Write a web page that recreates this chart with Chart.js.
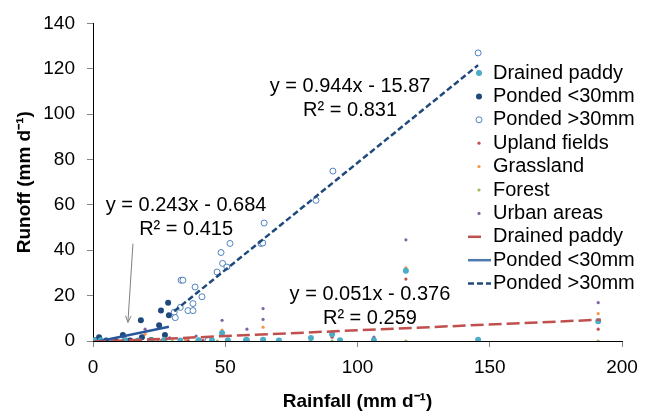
<!DOCTYPE html>
<html>
<head>
<meta charset="utf-8">
<script src="https://cdn.jsdelivr.net/npm/chart.js@4.4.1/dist/chart.umd.min.js"></script>
<style>
  body { margin: 0; background: #fff; }
</style>
</head>
<body>
<canvas id="js--chart" width="653" height="417"></canvas>
<script>
// rainfall (x) and runoff (y) per land use, mm/d
const drainedX = [0.5, 3, 7, 12, 17, 22, 27, 33, 40, 45, 48.8, 51, 58, 64.3, 70.3, 82.4, 90.4, 93.4, 106.2, 118.3, 145.6, 191];
const drainedY = [0.2, 0.3, 0.1, 0.4, 0.2, 0.3, 0.5, 0.2, 0.3, 0.2, 3.5, 0.3, 0.4, 0.6, 0.2, 1.3, 3.0, 0.3, 0.3, 31, 0.6, 8.7];

const pondedLowX = [0, 0.5, 2.3, 5, 8, 11.3, 14, 18.1, 18.5, 22, 25, 25.7, 27.2, 28.4, 28.7];
const pondedLowY = [0, 0.3, 1.7, 0.2, 0.3, 2.6, 0.2, 9.1, 1.7, 0.4, 6.9, 13.4, 2.6, 16.9, 11.3];

const pondedHighX = [30.7, 31.1, 33, 33.3, 34, 35.9, 37.8, 37.8, 38.6, 41.2, 43.5, 46.9, 48.4, 49, 50.6, 51.8, 58, 63.5, 64.2, 64.7, 84.3, 90.7, 145.6];
const pondedHighY = [12.7, 10.3, 14.8, 26.8, 26.8, 13.4, 13.4, 16.5, 23.8, 19.5, 0.2, 30.4, 39, 34.2, 32.6, 43, 0.3, 43, 43.2, 52, 62, 74.9, 127];

const uplandX = [1, 4, 9, 15, 21, 26, 36, 41.6, 48.8, 64.3, 90.4, 118.3, 191];
const uplandY = [0.3, 0.2, 0.5, 0.3, 0.6, 0.4, 0.2, 0.3, 2.4, 0.8, 1.7, 27.3, 5.2];

const grassX = [2, 6, 13, 19.7, 24, 35, 43.5, 48.8, 64.3, 82.4, 90.4, 118.3, 191];
const grassY = [0.3, 0.4, 0.2, 3.0, 0.5, 0.3, 0.2, 4.8, 6.1, 1.8, 2.2, 32.3, 12.1];

const forestX = [1.5, 7, 16, 23, 30, 39, 47, 51, 64.3, 70.3, 82.4, 90.4, 93.4, 118.3, 145.6, 191];
const forestY = [0, 0.1, 0, 0.1, 0, 0, 0, 0, 0, 0, 0, 0, 0, 0, 0, 0];

const urbanX = [0.8, 3.5, 9, 12.5, 19.7, 24.5, 29, 35, 39, 43.5, 48.8, 58.2, 64.3, 64.3, 90.4, 106.2, 118.3, 145.6, 191];
const urbanY = [0.4, 0.2, 0.6, 1.0, 5.2, 0.5, 1.4, 0.3, 2.2, 0.3, 9.1, 5.2, 14.3, 9.5, 3.9, 1.7, 44.6, 0.9, 16.9];

// trend line end points
const drainedTrendX = [0, 192];
const drainedTrendY = [-0.38, 9.4];
const pondedLowTrendX = [0.5, 28.7];
const pondedLowTrendY = [-0.56, 6.29];
const pondedHighTrendX = [30.7, 145.6];
const pondedHighTrendY = [13.1, 121.6];

const xTicks = [0, 50, 100, 150, 200];
const yTicks = [0, 20, 40, 60, 80, 100, 120, 140];

const equations = [
  ["y = 0.944x - 15.87", "R² = 0.831"],
  ["y = 0.243x - 0.684", "R² = 0.415"],
  ["y = 0.051x - 0.376", "R² = 0.259"],
];

function pts(xs, ys) {
  return xs.map((x, i) => ({ x: x, y: ys[i] }));
}

const FONT = "'Liberation Sans', Arial, sans-serif";

function dots(label, xs, ys, color, r, open) {
  return {
    type: "scatter",
    label: label,
    data: pts(xs, ys),
    backgroundColor: open ? "#fff" : color,
    borderColor: color,
    borderWidth: open ? 1 : 0,
    pointRadius: r,
    order: 2,
  };
}

function trend(label, xs, ys, color, dash) {
  return {
    type: "line",
    label: label,
    data: pts(xs, ys),
    borderColor: color,
    backgroundColor: color,
    borderWidth: 2.5,
    borderDash: dash,
    pointRadius: 0,
    fill: false,
    order: 1,
  };
}

const datasets = [
  dots("Drained paddy", drainedX, drainedY, "#4BACC6", 3),
  dots("Ponded <30mm", pondedLowX, pondedLowY, "#1F497D", 3),
  dots("Ponded >30mm", pondedHighX, pondedHighY, "#4F81BD", 3, true),
  dots("Upland fields", uplandX, uplandY, "#C0504D", 1.6),
  dots("Grassland", grassX, grassY, "#F79646", 1.6),
  dots("Forest", forestX, forestY, "#9BBB59", 1.6),
  dots("Urban areas", urbanX, urbanY, "#8064A2", 1.6),
  trend("Drained paddy", drainedTrendX, drainedTrendY, "#C0504D", [13, 5]),
  trend("Ponded <30mm", pondedLowTrendX, pondedLowTrendY, "#2A5699", []),
  trend("Ponded >30mm", pondedHighTrendX, pondedHighTrendY, "#1F497D", [6, 3]),
];

// equation labels, arrow and the legend drawn over the plot
const overlay = {
  id: "overlay",
  afterDatasetsDraw(chart) {
    const ctx = chart.ctx;
    const xs = chart.scales.x;
    const ys = chart.scales.y;
    const spots = [[97.2, 112.1], [35.2, 59.7], [104.7, 20.3]];

    ctx.save();
    ctx.fillStyle = "#000";
    ctx.font = "20px " + FONT;
    ctx.textAlign = "center";
    ctx.textBaseline = "middle";
    equations.forEach((eq, i) => {
      const px = xs.getPixelForValue(spots[i][0]);
      const py = ys.getPixelForValue(spots[i][1]);
      ctx.fillText(eq[0], px, py);
      ctx.fillText(eq[1], px, py + 23.5);
    });

    // arrow from the 0.243x label down to the points
    const ax = xs.getPixelForValue(15.1), ay = ys.getPixelForValue(42.9);
    const bx = xs.getPixelForValue(13.2), by = ys.getPixelForValue(8.2);
    const ang = Math.atan2(by - ay, bx - ax);
    ctx.strokeStyle = "#7F7F7F";
    ctx.lineWidth = 1;
    ctx.beginPath();
    ctx.moveTo(ax, ay);
    ctx.lineTo(bx, by);
    ctx.moveTo(bx - 7 * Math.cos(ang - 0.4), by - 7 * Math.sin(ang - 0.4));
    ctx.lineTo(bx, by);
    ctx.lineTo(bx - 7 * Math.cos(ang + 0.4), by - 7 * Math.sin(ang + 0.4));
    ctx.stroke();

    // legend
    ctx.textAlign = "left";
    chart.data.datasets.forEach((ds, i) => {
      const y = 73 + i * 23.4;
      if (ds.type === "scatter") {
        ctx.beginPath();
        ctx.arc(479, y, ds.pointRadius, 0, Math.PI * 2);
        ctx.fillStyle = ds.backgroundColor;
        ctx.fill();
        if (ds.borderWidth) {
          ctx.strokeStyle = ds.borderColor;
          ctx.lineWidth = 1;
          ctx.stroke();
        }
      } else {
        ctx.strokeStyle = i === 8 ? "#4F7AB0" : ds.borderColor;
        ctx.lineWidth = 2.5;
        ctx.setLineDash(ds.borderDash.length ? ds.borderDash : []);
        ctx.beginPath();
        ctx.moveTo(468, y);
        ctx.lineTo(ds.borderDash[0] === 13 ? 483 : 491, y);
        ctx.stroke();
        ctx.setLineDash([]);
      }
      ctx.fillStyle = "#000";
      ctx.fillText(ds.label, 493, y);
    });
    ctx.restore();
  },
};

const config = {
  data: { datasets: datasets },
  options: {
    responsive: false,
    animation: false,
    layout: { padding: { top: 19, right: 31, left: 0, bottom: 0 } },
    plugins: { legend: { display: false }, tooltip: { enabled: false } },
    scales: {
      x: {
        type: "linear",
        min: 0,
        max: 200,
        afterBuildTicks: (s) => { s.ticks = xTicks.map((v) => ({ value: v })); },
        afterFit: (s) => { s.height = 76; },
        ticks: { color: "#000", font: { family: FONT, size: 19 }, padding: 9 },
        grid: { drawOnChartArea: false, tickLength: 6, color: "#868686" },
        border: { color: "#000", width: 1 },
        title: {
          display: true,
          text: "Rainfall (mm d⁻¹)",
          color: "#000",
          font: { family: FONT, size: 19, weight: "bold" },
          padding: { top: 0, bottom: 4 },
        },
      },
      y: {
        type: "linear",
        min: 0,
        max: 140,
        afterBuildTicks: (s) => { s.ticks = yTicks.map((v) => ({ value: v })); },
        afterFit: (s) => { s.width = 93; },
        ticks: { color: "#000", font: { family: FONT, size: 19 }, padding: 12 },
        grid: { drawOnChartArea: false, tickLength: 6, color: "#868686" },
        border: { color: "#000", width: 1 },
        title: {
          display: true,
          text: "Runoff (mm d⁻¹)",
          color: "#000",
          font: { family: FONT, size: 19, weight: "bold" },
          padding: { top: 13, bottom: 0 },
        },
      },
    },
  },
  plugins: [overlay],
};

new Chart(document.getElementById("js--chart"), config);
</script>
</body>
</html>
